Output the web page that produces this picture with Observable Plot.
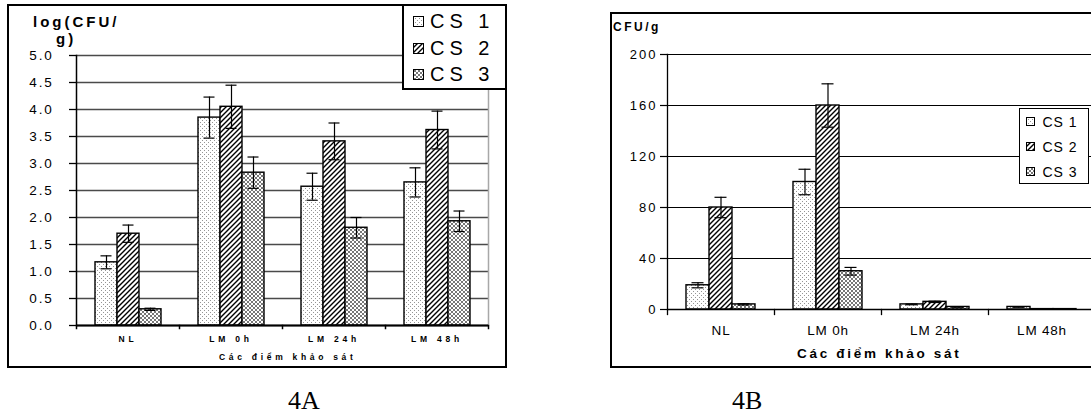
<!DOCTYPE html>
<html>
<head>
<meta charset="utf-8">
<script src="https://cdn.jsdelivr.net/npm/d3@7"></script>
<script src="https://cdn.jsdelivr.net/npm/@observablehq/plot@0.6"></script>
<style>
  body { margin: 0; overflow: hidden; background: white; }
  #root { position: relative; width: 1091px; height: 414px; overflow: hidden; font-family: "Liberation Sans", Arial, sans-serif; color: black; }
  .abs { position: absolute; white-space: nowrap; line-height: 1; }
  .box { position: absolute; box-sizing: border-box; border: 2px solid black; }
  .legend { position: absolute; box-sizing: border-box; background: white; border: 2px solid black; }
  .row { position: absolute; display: flex; align-items: center; white-space: nowrap; line-height: 1; }
  .row svg { display: block; }
</style>
</head>
<body>
<svg width="0" height="0" style="position:absolute">
  <defs>
    <pattern id="pDots" width="4" height="4" patternUnits="userSpaceOnUse">
      <rect width="4" height="4" fill="white"/>
      <rect x="0" y="0" width="1" height="1" fill="#959595"/>
      <rect x="2" y="2" width="1" height="1" fill="#959595"/>
    </pattern>
    <pattern id="pHatch" width="5" height="5" patternUnits="userSpaceOnUse">
      <rect width="5" height="5" fill="white"/>
      <path d="M-1,1 l2,-2 M0,5 l5,-5 M4,6 l2,-2" stroke="black" stroke-width="1.4"/>
    </pattern>
    <pattern id="pCross" width="4" height="4" patternUnits="userSpaceOnUse">
      <rect width="4" height="4" fill="white"/>
      <path d="M0,0 l4,4 M4,0 l-4,4" stroke="#777777" stroke-width="1"/>
    </pattern>
  </defs>
</svg>
<div id="root"></div>
<script>
// ---------- data ----------
const categories = ["NL", "LM 0h", "LM 24h", "LM 48h"];
const series = ["CS 1", "CS 2", "CS 3"];

// Chart 4A: log(CFU/g)
const cs1A = [1.17, 3.85, 2.57, 2.65];
const cs2A = [1.70, 4.05, 3.41, 3.62];
const cs3A = [0.30, 2.83, 1.81, 1.93];
const err1A = [0.12, 0.38, 0.25, 0.27];
const err2A = [0.16, 0.40, 0.34, 0.35];
const err3A = [0.02, 0.29, 0.19, 0.19];
const yTicksA = [0, 0.5, 1, 1.5, 2, 2.5, 3, 3.5, 4, 4.5, 5];

// Chart 4B: CFU/g
const cs1B = [19, 100, 4, 2];
const cs2B = [80, 160, 6, 0.3];
const cs3B = [4, 30, 2, 0.3];
const err1B = [2, 10, 0.3, 0.2];
const err2B = [8, 17, 0.5, 0];
const err3B = [0.5, 3, 0.2, 0];
const yTicksB = [0, 40, 80, 120, 160, 200];

const fills = ["url(#pDots)", "url(#pHatch)", "url(#pCross)"];

function buildRows(vals, errs) {
  return categories.flatMap((c, i) => series.map((s, j) => ({
    cat: c, series: s, value: vals[j][i],
    lo: vals[j][i] - errs[j][i], hi: vals[j][i] + errs[j][i]
  })));
}
const rowsA = buildRows([cs1A, cs2A, cs3A], [err1A, err2A, err3A]);
const rowsB = buildRows([cs1B, cs2B, cs3B], [err1B, err2B, err3B]);

const root = document.getElementById("root");

function place(el, left, top) {
  el.style.position = "absolute";
  el.style.left = left + "px";
  el.style.top = top + "px";
  root.appendChild(el);
}
function addText(txt, left, top, css) {
  const d = document.createElement("div");
  d.className = "abs";
  d.textContent = txt;
  d.style.left = left + "px";
  d.style.top = top + "px";
  Object.assign(d.style, css || {});
  root.appendChild(d);
  return d;
}

// ---------- Chart A ----------
const frameA = document.createElement("div");
frameA.className = "box";
Object.assign(frameA.style, {left: "7px", top: "4px", width: "500px", height: "364px"});
root.appendChild(frameA);

const hA = 361, mtA = 49, mbA = 42;
const plotA = Plot.plot({
  width: 498, height: hA,
  marginLeft: 67, marginRight: 18, marginTop: mtA, marginBottom: mbA,
  style: {fontFamily: "'Liberation Sans', Arial, sans-serif", background: "transparent", overflow: "visible", color: "black"},
  fx: {domain: categories, padding: 0, label: null},
  x: {domain: series, paddingInner: 0, paddingOuter: 0.75, axis: null},
  y: {domain: [0, 5]},
  color: {domain: series, range: fills},
  marks: [
    Plot.gridY(yTicksA, {stroke: "#4a4a4a", strokeOpacity: 1, strokeWidth: 1.3}),
    Plot.frame({anchor: "right", facet: "super", stroke: "#a8a8a8", strokeWidth: 1.5}),
    Plot.barY(rowsA, {fx: "cat", x: "series", y: "value", fill: "series", stroke: "black", strokeWidth: 1.4}),
    Plot.ruleX(rowsA, {fx: "cat", x: "series", y1: "lo", y2: "hi", stroke: "black", strokeWidth: 1.2}),
    Plot.tickY(rowsA, {fx: "cat", x: "series", y: "lo", insetLeft: 5.5, insetRight: 5.5, stroke: "black", strokeWidth: 1.2}),
    Plot.tickY(rowsA, {fx: "cat", x: "series", y: "hi", insetLeft: 5.5, insetRight: 5.5, stroke: "black", strokeWidth: 1.2}),
    Plot.ruleY([0], {stroke: "black", strokeWidth: 1.8}),
    Plot.frame({anchor: "left", insetTop: hA - mtA - mbA, insetBottom: -3, stroke: "black", strokeWidth: 1.5}),
    Plot.frame({anchor: "right", facet: "super", insetTop: hA - mtA - mbA, insetBottom: -3, stroke: "black", strokeWidth: 1.5}),
    Plot.frame({anchor: "left", facet: "super", stroke: "black", strokeWidth: 1.5}),
    Plot.axisY({ticks: yTicksA, tickFormat: d3.format(".1f"), tickSize: 7, tickPadding: 16, fontSize: 13.5, label: null, stroke: "black", strokeWidth: 1.3}),
    Plot.axisFx({anchor: "bottom", tickSize: 0, tickPadding: 10, fontSize: 8.5, fontWeight: "bold", label: null})
  ]
});
place(plotA, 8, 6);
d3.select(plotA).selectAll('[aria-label="y-axis tick label"] text').style("letter-spacing", "1.8px");
d3.select(plotA).selectAll('[aria-label="fx-axis tick label"] text').style("letter-spacing", "3.8px");

addText("log(CFU/", 33, 14, {fontSize: "15px", fontWeight: "bold", letterSpacing: "3px"});
addText("g)", 56, 31, {fontSize: "15px", fontWeight: "bold", letterSpacing: "3px"});
addText("Các điểm khảo sát", 219, 353, {fontSize: "8.5px", fontWeight: "bold", letterSpacing: "3.7px"});
addText("4A", 288, 388, {fontSize: "26px", fontFamily: "'Liberation Serif', 'Times New Roman', serif"});

function makeLegend(left, top, width, height, rows, sw, fs, ls, textX, borderW) {
  const lg = document.createElement("div");
  lg.className = "legend";
  Object.assign(lg.style, {left: left + "px", top: top + "px", width: width + "px", height: height + "px", borderWidth: borderW + "px"});
  root.appendChild(lg);
  series.forEach((s, j) => {
    const r = document.createElement("div");
    r.className = "row";
    r.style.left = (rows.x - left - borderW) + "px";
    r.style.top = (rows.y[j] - top - borderW - fs / 2) + "px";
    r.style.height = fs + "px";
    const svgNS = "http://www.w3.org/2000/svg";
    const s1 = document.createElementNS(svgNS, "svg");
    s1.setAttribute("width", sw + 1); s1.setAttribute("height", sw + 1);
    const rc = document.createElementNS(svgNS, "rect");
    rc.setAttribute("x", 0.5); rc.setAttribute("y", 0.5);
    rc.setAttribute("width", sw); rc.setAttribute("height", sw);
    rc.setAttribute("fill", fills[j]); rc.setAttribute("stroke", "black"); rc.setAttribute("stroke-width", 1);
    s1.appendChild(rc);
    r.appendChild(s1);
    const t = document.createElement("span");
    t.textContent = s;
    t.style.fontSize = fs + "px";
    t.style.letterSpacing = ls + "px";
    t.style.marginLeft = (textX - rows.x - sw - 1) + "px";
    r.appendChild(t);
    lg.appendChild(r);
  });
}
makeLegend(402, 4, 105, 86, {x: 413, y: [21, 48, 74]}, 10, 20, 5, 430, 2);

// ---------- Chart B ----------
const frameB = document.createElement("div");
frameB.className = "box";
Object.assign(frameB.style, {left: "610px", top: "12px", width: "492px", height: "356px"});
root.appendChild(frameB);

const hB = 354, mtB = 41, mbB = 58;
const plotB = Plot.plot({
  width: 486, height: hB,
  marginLeft: 56, marginRight: 2, marginTop: mtB, marginBottom: mbB,
  style: {fontFamily: "'Liberation Sans', Arial, sans-serif", background: "transparent", overflow: "visible", color: "black"},
  fx: {domain: categories, padding: 0, label: null},
  x: {domain: series, paddingInner: 0, paddingOuter: 0.73, axis: null},
  y: {domain: [0, 200]},
  color: {domain: series, range: fills},
  marks: [
    Plot.gridY(yTicksB, {stroke: "black", strokeOpacity: 1, strokeWidth: 1}),
    Plot.barY(rowsB, {fx: "cat", x: "series", y: "value", fill: "series", stroke: "black", strokeWidth: 1.4}),
    Plot.ruleX(rowsB.filter(d => d.hi > d.lo), {fx: "cat", x: "series", y1: "lo", y2: "hi", stroke: "black", strokeWidth: 1.2}),
    Plot.tickY(rowsB.filter(d => d.hi > d.lo), {fx: "cat", x: "series", y: "lo", insetLeft: 5.5, insetRight: 5.5, stroke: "black", strokeWidth: 1.2}),
    Plot.tickY(rowsB.filter(d => d.hi > d.lo), {fx: "cat", x: "series", y: "hi", insetLeft: 5.5, insetRight: 5.5, stroke: "black", strokeWidth: 1.2}),
    Plot.ruleY([0], {stroke: "black", strokeWidth: 1.5}),
    Plot.frame({anchor: "left", insetTop: hB - mtB - mbB, insetBottom: -5, stroke: "black", strokeWidth: 1.3}),
    Plot.frame({anchor: "left", facet: "super", stroke: "black", strokeWidth: 1.3}),
    Plot.axisY({ticks: yTicksB, tickSize: 7, tickPadding: 3, fontSize: 13, label: null, stroke: "black", strokeWidth: 1.2}),
    Plot.axisFx({anchor: "bottom", tickSize: 0, tickPadding: 16, fontSize: 13.5, label: null})
  ]
});
place(plotB, 611, 13);
d3.select(plotB).selectAll('[aria-label="y-axis tick label"] text').style("letter-spacing", "2px");
d3.select(plotB).selectAll('[aria-label="fx-axis tick label"] text').style("letter-spacing", "0.8px");

addText("CFU/g", 613, 21, {fontSize: "12px", fontWeight: "bold", letterSpacing: "2.5px"});
addText("Các điểm khảo sát", 797, 347, {fontSize: "13.5px", fontWeight: "bold", letterSpacing: "2.7px"});
addText("4B", 732, 388, {fontSize: "26px", fontFamily: "'Liberation Serif', 'Times New Roman', serif"});
makeLegend(1019, 108, 70, 76, {x: 1026, y: [122, 147, 172]}, 8, 14, 1, 1043, 1.5);
</script>
</body>
</html>
